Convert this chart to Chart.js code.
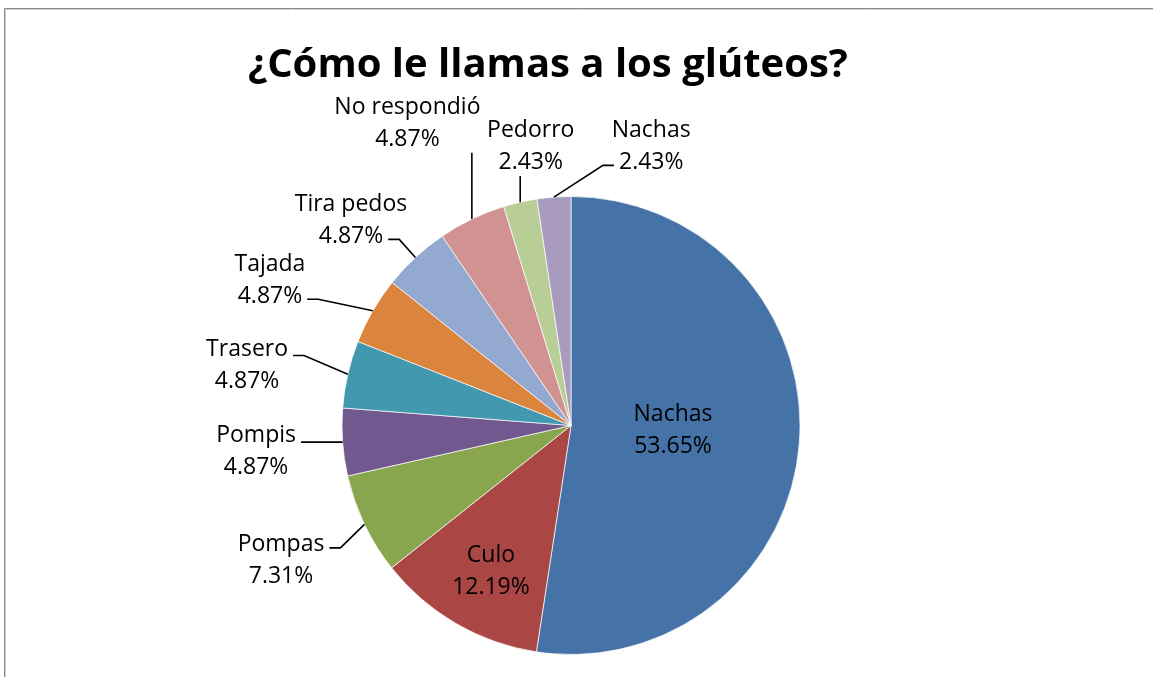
<!DOCTYPE html>
<html>
<head>
<meta charset="utf-8">
<script src="https://cdn.jsdelivr.net/npm/chart.js@4.4.0/dist/chart.umd.min.js"></script>
<style>
	body { margin: 0; background: #fff; }
	#caixa { width: 1153px; height: 677px; }
</style>
</head>
<body>
<div id="caixa"><canvas id="graficoPizza"></canvas></div>
<script>
categorias = ['Nachas', 'Culo', 'Pompas', 'Pompis', 'Trasero', 'Tajada', 'Tira pedos', 'No respondió', 'Pedorro', 'Nachas']
porcentajes = [53.65, 12.19, 7.31, 4.87, 4.87, 4.87, 4.87, 4.87, 2.43, 2.43]
cores = ['#4572A7', '#AA4643', '#89A54E', '#71588F', '#4198AF', '#DB843D', '#93A9CF', '#D19392', '#B9CD96', '#A99BBD']
titulo = '¿Cómo le llamas a los glúteos?'

// label placement: distance from centre (x radius) and turn from slice middle (deg)
// ancora: optional fixed height of the leader stub, in line heights from the label centre
var rotulos = [
	{ dentro: true, dist: 0.446, giro: -1.8 },
	{ dentro: true, dist: 0.725, giro: -1.3 },
	{ dist: 1.397, giro: 0.6 },
	{ dist: 1.380, giro: -0.6 },
	{ dist: 1.439, giro: -2.4, ancora: -0.3 },
	{ dist: 1.460, giro: -4.3 },
	{ dist: 1.314, giro: -4.2 },
	{ dist: 1.499, giro: -2.8 },
	{ dist: 1.229, giro: 4.6 },
	{ dist: 1.269, giro: 20.3 }
]

var fonteRotulo = '23px "Open Sans"'
var alturaLinha = 32

var rotulosPlugin = {
	id: 'rotulos',
	afterDatasetsDraw(chart) {
		var ctx = chart.ctx
		var arcos = chart.getDatasetMeta(0).data
		ctx.save()
		ctx.font = fonteRotulo
		ctx.textAlign = 'center'
		ctx.textBaseline = 'middle'
		ctx.strokeStyle = '#000'
		ctx.lineWidth = 1.6
		arcos.forEach((arco, i) => {
			var p = arco.getProps(['x', 'y', 'startAngle', 'endAngle', 'outerRadius'], true)
			var cfg = rotulos[i]
			var meio = (p.startAngle + p.endAngle) / 2
			var ang = meio + cfg.giro * Math.PI / 180
			var cx = p.x + Math.cos(ang) * p.outerRadius * cfg.dist
			var cy = p.y + Math.sin(ang) * p.outerRadius * cfg.dist
			var linhas = [categorias[i], porcentajes[i].toFixed(2) + '%']
			if (!cfg.dentro) {
				var ax = p.x + Math.cos(meio) * p.outerRadius
				var ay = p.y + Math.sin(meio) * p.outerRadius
				var larg = linhas.map(t => ctx.measureText(t).width)
				var meiaL = Math.max(larg[0], larg[1]) / 2
				ctx.beginPath()
				if (Math.abs(ax - cx) < meiaL) {
					var y0 = ay > cy ? cy + alturaLinha - 3 : cy - alturaLinha + 3
					ctx.moveTo(ax, y0)
					ctx.lineTo(ax, ay)
				} else {
					var topo = cy - alturaLinha
					var yl = Math.min(Math.max(ay, topo + 0.3 * 2 * alturaLinha), topo + 0.8 * 2 * alturaLinha)
					if (cfg.ancora !== undefined) yl = cy + cfg.ancora * alturaLinha
					var idx = yl < cy ? 0 : 1
					var lado = ax > cx ? 1 : -1
					var x0 = cx + lado * (larg[idx] / 2 + 5)
					ctx.moveTo(x0, yl)
					ctx.lineTo(x0 + lado * 11, yl)
					ctx.lineTo(ax, ay)
				}
				ctx.stroke()
			}
			ctx.fillStyle = '#000'
			ctx.fillText(linhas[0], cx, cy - alturaLinha / 2)
			ctx.fillText(linhas[1], cx, cy + alturaLinha / 2)
		})
		ctx.restore()
	},
	afterDraw(chart) {
		var ctx = chart.ctx
		ctx.save()
		// chart frame (only top and left edges are in view)
		ctx.strokeStyle = '#888'
		ctx.lineWidth = 1
		ctx.beginPath()
		ctx.moveTo(4.5, chart.height)
		ctx.lineTo(4.5, 8.5)
		ctx.lineTo(chart.width, 8.5)
		ctx.stroke()
		ctx.strokeStyle = '#d0d0d0'
		ctx.beginPath()
		ctx.moveTo(5.5, chart.height)
		ctx.lineTo(5.5, 9.5)
		ctx.lineTo(chart.width, 9.5)
		ctx.stroke()
		// title
		ctx.font = 'bold 40px "Open Sans"'
		ctx.fillStyle = '#000'
		ctx.textAlign = 'center'
		ctx.textBaseline = 'alphabetic'
		ctx.fillText(titulo, 548, 77)
		ctx.restore()
	}
}

function geraGrafico() {
	var config = {
		type: 'pie',
		data: {
			labels: categorias,
			datasets: [{
				data: porcentajes,
				backgroundColor: cores,
				borderColor: 'rgba(255,255,255,0.7)',
				borderWidth: 1,
				radius: 229
			}]
		},
		options: {
			responsive: true,
			maintainAspectRatio: false,
			animation: false,
			layout: {
				padding: { left: 342, right: 353, top: 196, bottom: 22 }
			},
			plugins: {
				legend: { display: false },
				tooltip: { enabled: false },
				title: { display: false }
			}
		},
		plugins: [rotulosPlugin]
	}
	var ctx = document.getElementById('graficoPizza').getContext('2d')
	window.graficoPizza = new Chart(ctx, config)
}

geraGrafico()
</script>
</body>
</html>
